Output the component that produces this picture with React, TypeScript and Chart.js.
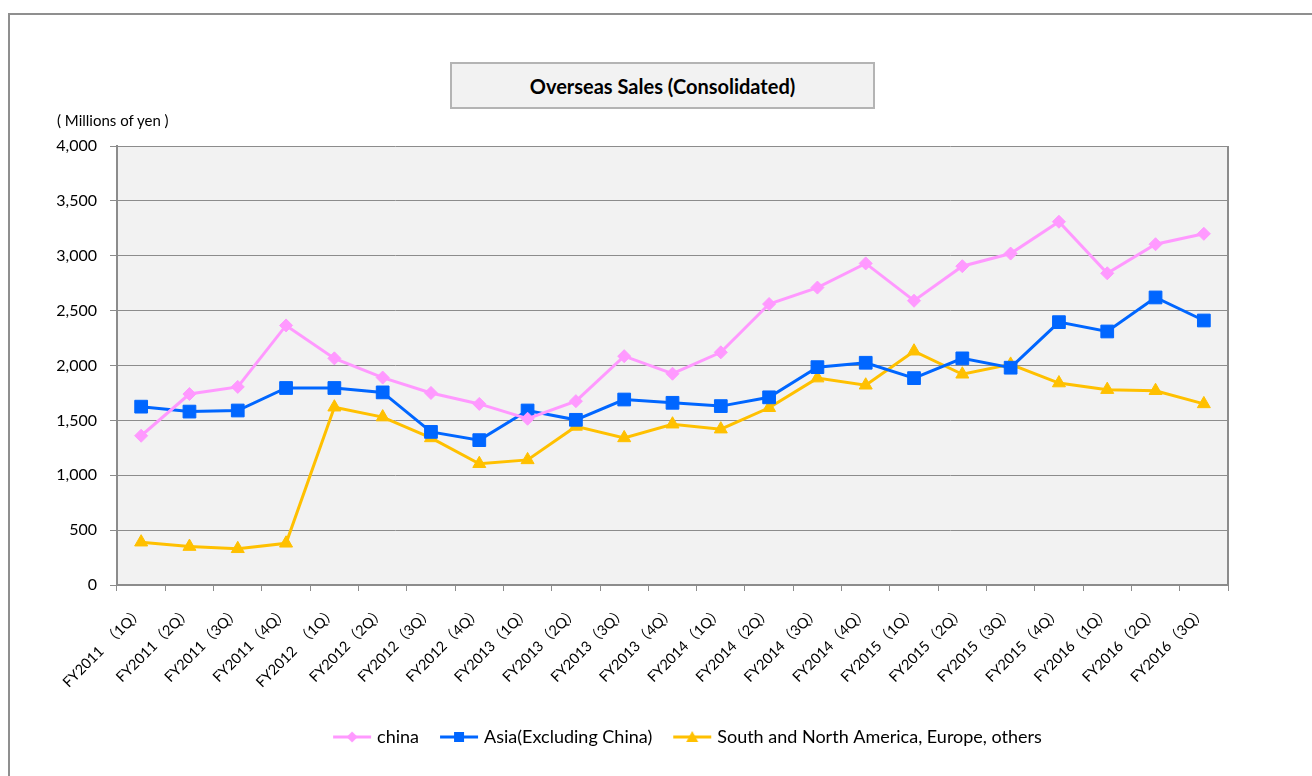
import React, { useEffect, useRef } from "react";
import { Chart, registerables } from "chart.js";

Chart.register(...registerables);

const categories = [
  "FY2011　（1Q）", "FY2011（2Q）", "FY2011（3Q）", "FY2011（4Q）",
  "FY2012　（1Q）", "FY2012（2Q）", "FY2012（3Q）", "FY2012（4Q）",
  "FY2013（1Q）", "FY2013（2Q）", "FY2013（3Q）", "FY2013（4Q）",
  "FY2014（1Q）", "FY2014（2Q）", "FY2014（3Q）", "FY2014（4Q）",
  "FY2015（1Q）", "FY2015（2Q）", "FY2015（3Q）", "FY2015（4Q）",
  "FY2016（1Q）", "FY2016（2Q）", "FY2016（3Q）",
];

const chinaValues = [
  1360, 1740, 1805, 2365, 2065, 1890, 1750, 1650, 1515, 1675, 2085, 1925,
  2120, 2560, 2710, 2930, 2590, 2905, 3020, 3310, 2840, 3105, 3200,
];

const asiaValues = [
  1625, 1580, 1590, 1795, 1795, 1755, 1395, 1320, 1590, 1505, 1690, 1660,
  1630, 1710, 1985, 2025, 1885, 2065, 1980, 2395, 2310, 2620, 2410,
];

const otherValues = [
  390, 350, 330, 380, 1620, 1530, 1340, 1105, 1140, 1445, 1340, 1465,
  1420, 1615, 1885, 1820, 2130, 1920, 2010, 1840, 1780, 1770, 1650,
];

const seriesNames = ["china", "Asia(Excluding China)", "South and North America, Europe, others"];
const seriesColors = ["#ff99ff", "#0066ff", "#ffc000"];
const seriesShapes = ["rectRot", "rect", "triangle"];

const yMin = 0;
const yMax = 4000;
const yStep = 500;

const titleText = "Overseas Sales (Consolidated)";
const unitText = "( Millions of yen )";

const FONT = "Lato, 'Noto Sans CJK JP', sans-serif";

function legendIcon(color: string, shape: string): HTMLCanvasElement {
  const c = document.createElement("canvas");
  c.width = 40;
  c.height = 16;
  const ctx = c.getContext("2d")!;
  ctx.strokeStyle = color;
  ctx.lineWidth = 3;
  ctx.beginPath();
  ctx.moveTo(1, 8);
  ctx.lineTo(39, 8);
  ctx.stroke();
  ctx.fillStyle = color;
  ctx.beginPath();
  if (shape === "rectRot") {
    ctx.moveTo(20, 2.5);
    ctx.lineTo(25.5, 8);
    ctx.lineTo(20, 13.5);
    ctx.lineTo(14.5, 8);
  } else if (shape === "rect") {
    ctx.rect(15, 3, 10, 10);
  } else {
    ctx.moveTo(20, 2);
    ctx.lineTo(26, 13);
    ctx.lineTo(14, 13);
  }
  ctx.closePath();
  ctx.fill();
  return c;
}

const plotFrame = {
  id: "plotFrame",
  beforeDraw(chart: any) {
    const { ctx, chartArea: a } = chart;
    ctx.save();
    ctx.fillStyle = "#f2f2f2";
    ctx.fillRect(a.left, a.top, a.right - a.left, a.bottom - a.top);
    ctx.restore();
  },
  beforeDatasetsDraw(chart: any) {
    const { ctx, chartArea: a } = chart;
    ctx.save();
    ctx.strokeStyle = "#8c8c8c";
    ctx.lineWidth = 2;
    ctx.beginPath();
    ctx.moveTo(a.right, a.top);
    ctx.lineTo(a.right, a.bottom);
    ctx.stroke();
    ctx.restore();
  },
  afterLayout(chart: any) {
    const lg = chart.legend;
    if (lg) {
      lg.left += 65;
      lg.right += 65;
    }
  },
};

export default function App() {
  const canvasRef = useRef<HTMLCanvasElement | null>(null);

  useEffect(() => {
    if (!canvasRef.current) return;
    const seriesValues = [chinaValues, asiaValues, otherValues];
    const radii = [6.5, 9, 7.5];
    const icons = seriesColors.map((c, i) => legendIcon(c, seriesShapes[i]));

    const chart = new Chart(canvasRef.current, {
      type: "line",
      data: {
        labels: categories,
        datasets: seriesNames.map((name, i) => ({
          label: name,
          data: seriesValues[i],
          borderColor: seriesColors[i],
          backgroundColor: seriesColors[i],
          pointBackgroundColor: seriesColors[i],
          pointBorderColor: seriesColors[i],
          pointBorderWidth: 1,
          borderWidth: 3,
          pointStyle: seriesShapes[i] as any,
          pointRadius: radii[i],
          tension: 0,
          fill: false,
        })),
      },
      options: {
        responsive: false,
        animation: false,
        events: [],
        layout: { padding: { top: 146, left: 20, right: 84, bottom: 20 } },
        plugins: {
          title: { display: false },
          tooltip: { enabled: false },
          legend: {
            display: true,
            position: "bottom",
            labels: {
              usePointStyle: true,
              pointStyleWidth: 32,
              padding: 24,
              color: "#000",
              font: { size: 18, family: FONT },
              generateLabels: (ch: any) =>
                ch.data.datasets.map((ds: any, i: number) => ({
                  text: ds.label,
                  pointStyle: icons[i],
                  fillStyle: seriesColors[i],
                  strokeStyle: seriesColors[i],
                  fontColor: "#000",
                  lineWidth: 0,
                  hidden: false,
                  datasetIndex: i,
                })),
            },
          },
        },
        scales: {
          x: {
            type: "category",
            offset: true,
            grid: {
              offset: true,
              drawOnChartArea: false,
              drawTicks: true,
              tickLength: 6,
              color: "#8c8c8c",
              lineWidth: 1,
            },
            border: { color: "#8c8c8c", width: 2 },
            ticks: {
              minRotation: 45,
              maxRotation: 45,
              autoSkip: false,
              padding: 12,
              color: "#000",
              font: { size: 14.5, family: FONT },
            },
            afterFit: (s: any) => {
              s.height = 119;
            },
          },
          y: {
            min: yMin,
            max: yMax,
            ticks: {
              stepSize: yStep,
              padding: 13,
              color: "#000",
              font: { size: 16, family: FONT },
              callback: (v: any) => Number(v).toLocaleString("en-US"),
            },
            grid: { color: "#8c8c8c", lineWidth: 1, tickLength: 7 },
            border: { color: "#8c8c8c", width: 2 },
            afterFit: (s: any) => {
              s.width = 97;
            },
          },
        },
      },
      plugins: [plotFrame],
    });
    return () => chart.destroy();
  }, []);

  return (
    <div
      style={{
        position: "fixed",
        left: 0,
        top: 0,
        width: 1312,
        height: 776,
        overflow: "hidden",
        background: "#fff",
        fontFamily: FONT,
      }}
    >
      <div
        style={{
          position: "absolute",
          left: 8,
          top: 13,
          width: 1400,
          height: 900,
          border: "2px solid #8f8f8f",
          boxSizing: "border-box",
        }}
      />
      <canvas
        ref={canvasRef}
        width={1312}
        height={776}
        style={{ position: "absolute", left: 0, top: 0 }}
      />
      <div
        style={{
          position: "absolute",
          left: 450,
          top: 62,
          width: 425,
          height: 47,
          boxSizing: "border-box",
          background: "#f2f2f2",
          border: "2px solid #b4b4b4",
          display: "flex",
          alignItems: "center",
          justifyContent: "center",
          fontWeight: 700,
          fontSize: 20,
          color: "#000",
        }}
      >
        {titleText}
      </div>
      <div
        style={{
          position: "absolute",
          left: 57,
          top: 111,
          fontSize: 15,
          color: "#000",
          whiteSpace: "nowrap",
        }}
      >
        {unitText}
      </div>
    </div>
  );
}
